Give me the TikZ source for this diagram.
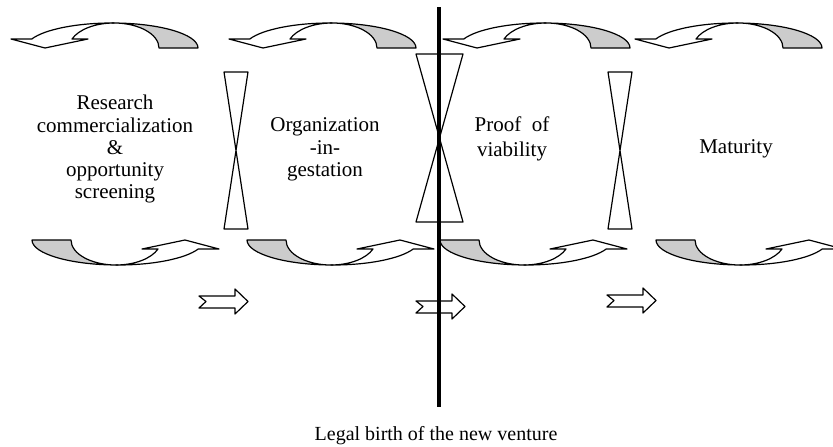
\documentclass[tikz,border=0pt]{standalone}
\usepackage{fontspec}
\setmainfont{Liberation Serif}
\definecolor{backgray}{HTML}{CCCCCC}
\begin{document}
\begin{tikzpicture}[x=1pt,y=-1pt,
  outline/.style={draw=black, line width=1.2pt, line join=round},
  lbl/.style={anchor=base, inner sep=0pt, font=\fontsize{21}{24}\selectfont},
  caption/.style={anchor=base, inner sep=0pt, font=\fontsize{20}{24}\selectfont},
  curvearrow/.pic={
    \path[outline, fill=backgray] (101,0) .. controls (148.5,0) and (187,11.2) .. (187,25)
       -- (148,25) .. controls (148,11.2) and (127.8,0) .. (103,0) -- cycle;
    \path[outline, fill=white] (0,16) -- (20.8,16) .. controls (33.6,6.4) and (65.5,0) .. (101,0)
       -- (103,0) .. controls (84.4,0) and (67.7,6.4) .. (61,16) -- (77,16) -- (34,25) -- cycle;
  },
  notcharrow/.pic={
    \path[outline, fill=white] (0,7) -- (36,7) -- (36,0) -- (49,12.5) -- (36,25) -- (36,19)
       -- (0,19) -- (7,12.5) -- cycle;
  },
  hourglass/.style={outline}
]
\useasboundingbox (0,0) rectangle (833,447);
\clip (0,0) rectangle (833,447);
% top curved arrows
\pic (ta1) at (11,23) {curvearrow};
\pic (ta2) at (229,23) {curvearrow};
\pic (ta3) at (443,23) {curvearrow};
\pic (ta4) at (635,23) {curvearrow};
% bottom curved arrows
\pic[rotate=180] (ba1) at (219,265) {curvearrow};
\pic[rotate=180] (ba2) at (434,265) {curvearrow};
\pic[rotate=180] (ba3) at (627,265) {curvearrow};
\pic[rotate=180] (ba4) at (843,265) {curvearrow};
% hourglasses
\draw[hourglass] (224,72) -- (248,72) -- (224,229) -- (248,229) -- cycle;
\draw[hourglass] (416,54) -- (463,54) -- (416,222) -- (463,222) -- cycle;
\draw[hourglass] (608,72) -- (632,72) -- (608,229) -- (632,229) -- cycle;
% notched arrows
\pic (na1) at (199,289) {notcharrow};
\pic (na2) at (416,294) {notcharrow};
\pic (na3) at (607,288) {notcharrow};
% legal birth line
\coordinate (lt) at (439,7);
\coordinate (lb) at (439,407);
\draw[line width=4.5pt] (lt) -- (lb);
% labels
\node[lbl] (r1) at (115,109) {Research};
\node[lbl] (r2) at (115,132) {commercialization};
\node[lbl] (r3) at (115,154) {\&};
\node[lbl] (r4) at (115,176) {opportunity};
\node[lbl] (r5) at (115,198) {screening};
\node[lbl] (o1) at (325,131) {Organization};
\node[lbl] (o2) at (325,154) {-in-};
\node[lbl] (o3) at (325,176) {gestation};
\node[lbl] (p1) at (512,131) {Proof\ \ of};
\node[lbl] (p2) at (512,156) {viability};
\node[lbl] (m1) at (736,153) {Maturity};
\node[caption] (legal) at (436,440) {Legal birth of the new venture};
\end{tikzpicture}
\end{document}
